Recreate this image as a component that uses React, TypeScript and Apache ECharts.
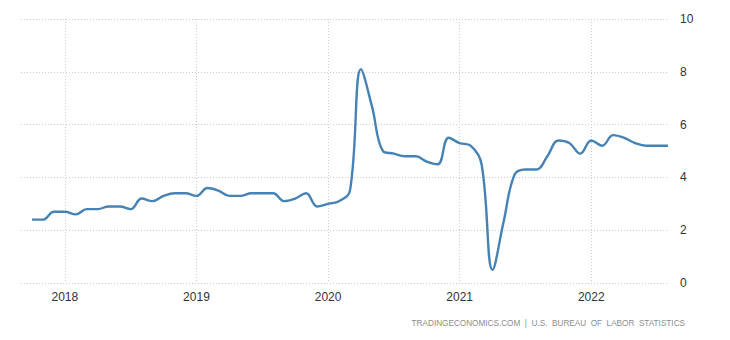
import React, { useEffect, useRef } from "react";
import * as echarts from "echarts";

const months: string[] = [
  "2017-09", "2017-10", "2017-11", "2017-12",
  "2018-01", "2018-02", "2018-03", "2018-04", "2018-05", "2018-06",
  "2018-07", "2018-08", "2018-09", "2018-10", "2018-11", "2018-12",
  "2019-01", "2019-02", "2019-03", "2019-04", "2019-05", "2019-06",
  "2019-07", "2019-08", "2019-09", "2019-10", "2019-11", "2019-12",
  "2020-01", "2020-02", "2020-03", "2020-04", "2020-05", "2020-06",
  "2020-07", "2020-08", "2020-09", "2020-10", "2020-11", "2020-12",
  "2021-01", "2021-02", "2021-03", "2021-04", "2021-05", "2021-06",
  "2021-07", "2021-08", "2021-09", "2021-10", "2021-11", "2021-12",
  "2022-01", "2022-02", "2022-03", "2022-04", "2022-05", "2022-06",
  "2022-07", "2022-08",
];

// First observation: 2017-10
const dataStart = "2017-10";
const values: number[] = [
  2.4, 2.4, 2.7,
  2.7, 2.6, 2.8, 2.8, 2.9, 2.9, 2.8, 3.2, 3.1, 3.3, 3.4, 3.4,
  3.3, 3.6, 3.5, 3.3, 3.3, 3.4, 3.4, 3.4, 3.1, 3.2, 3.4, 2.9,
  3.0, 3.1, 3.5, 8.1, 6.7, 5.0, 4.9, 4.8, 4.8, 4.6, 4.5, 5.5,
  5.3, 5.2, 4.5, 0.5, 2.3, 4.1, 4.3, 4.3, 4.8, 5.4, 5.3, 4.9,
  5.4, 5.2, 5.6, 5.5, 5.3, 5.2, 5.2, 5.2,
];

const yTicks = { min: 0, max: 10, interval: 2 };
const sourceNote = "TRADINGECONOMICS.COM  |  U.S.  BUREAU  OF  LABOR  STATISTICS";

export default function App() {
  const ref = useRef<HTMLDivElement>(null);

  useEffect(() => {
    if (!ref.current) return;
    const chart = echarts.init(ref.current, undefined, { renderer: "svg" });
    const offset = months.indexOf(dataStart);
    const seriesData = values.map((v, i) => [months[i + offset], v]);
    const isJan = (_i: number, val: string) => val.endsWith("-01");

    chart.setOption({
      animation: false,
      backgroundColor: "#ffffff",
      grid: { left: 21, right: 62, top: 19, bottom: 57, containLabel: false },
      xAxis: {
        type: "category",
        data: months,
        boundaryGap: false,
        axisLine: { show: false },
        axisTick: { show: false },
        axisLabel: {
          interval: isJan,
          formatter: (val: string) => val.slice(0, 4),
          color: "#333333",
          fontSize: 12,
          fontFamily: "Liberation Sans, Arial, sans-serif",
          margin: 8,
        },
        splitLine: {
          show: true,
          interval: isJan,
          lineStyle: { color: "#cccccc", type: [1, 2], width: 1 },
        },
      },
      yAxis: {
        type: "value",
        position: "right",
        min: yTicks.min,
        max: yTicks.max,
        interval: yTicks.interval,
        axisLine: { show: false },
        axisTick: { show: false },
        axisLabel: {
          color: "#333333",
          fontSize: 12,
          fontFamily: "Liberation Sans, Arial, sans-serif",
          margin: 12,
        },
        splitLine: {
          show: true,
          lineStyle: { color: "#cccccc", type: [1, 2], width: 1 },
        },
      },
      series: [
        {
          type: "line",
          data: seriesData,
          smooth: 0.4,
          showSymbol: false,
          symbol: "none",
          lineStyle: { color: "#4682b4", width: 2.4 },
        },
      ],
      graphic: [
        {
          type: "text",
          right: 45,
          top: 319,
          style: {
            text: sourceNote,
            fill: "#8c8c8c",
            fontSize: 8.2,
            fontFamily: "Liberation Sans, Arial, sans-serif",
          },
        },
      ],
    });

    return () => chart.dispose();
  }, []);

  return (
    <div
      ref={ref}
      style={{ position: "fixed", left: 0, top: 0, width: 730, height: 340 }}
    />
  );
}
